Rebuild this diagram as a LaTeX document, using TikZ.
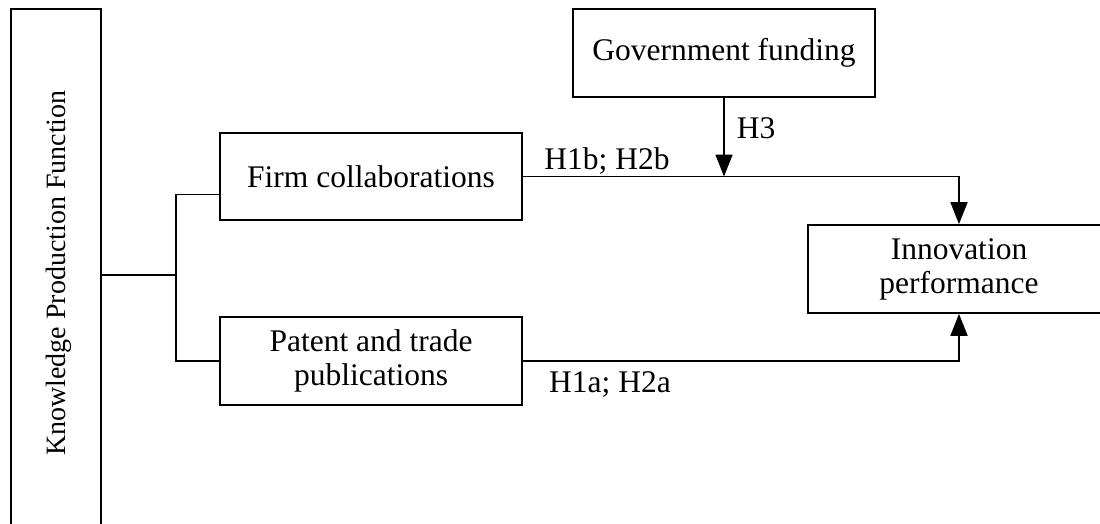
\documentclass[tikz,border=0pt]{standalone}
\usepackage{fontspec}
\setmainfont{Liberation Serif}
\usetikzlibrary{arrows.meta, positioning, calc}

\begin{document}
\begin{tikzpicture}[x=1pt, y=-1pt, font=\fontsize{31.5}{34}\selectfont, line width=1.7pt,
  blk/.style={draw, minimum width=302pt, minimum height=88pt, align=center, inner sep=0pt},
  arr/.style={-{Triangle[length=22pt,width=17pt]}},
  lbl/.style={inner sep=0pt}]
\useasboundingbox (0,0) rectangle (1100,524);
\node[blk, rotate=90, minimum width=526pt, minimum height=90pt] (kpf) at (56,272) {};
\node[rotate=90, inner sep=0pt, font=\fontsize{28}{32}\selectfont] (kpftext) at (59,273) {Knowledge Production Function};
\node[blk, minimum height=87pt] (firm) at (371,176.5) {Firm collaborations};
\node[blk] (patent) at (371,361) {Patent and trade\\publications};
\node[blk] (gov) at (724,53) {Government funding};
\node[blk] (innov) at (959,269) {Innovation\\performance};
\coordinate (fork) at (176,275);
% branches from the left box
\draw (fork -| kpf.south) -- (fork);
\draw ([yshift=-18pt]firm.west) -| (fork) |- (patent.west);
% paths to the outcome
\draw[arr] (firm.east) -| (innov.north);
\draw[arr] (patent.east) -| (innov.south);
\draw[arr] (gov.south) -- (gov.south |- firm.east);
\node[lbl, anchor=west] (h3) at (736,128) {H3};
\node[lbl] (h1b) at (607,161) {H1b; H2b};
\node[lbl] (h1a) at (610,384) {H1a; H2a};
\end{tikzpicture}
\end{document}
